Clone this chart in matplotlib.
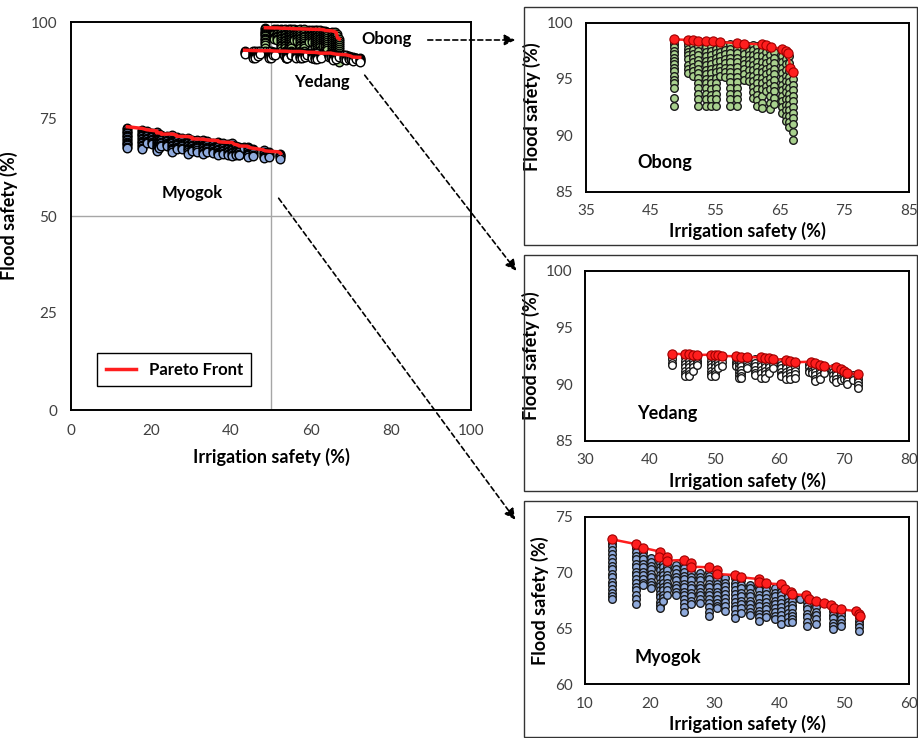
import matplotlib
matplotlib.use("Agg")
import matplotlib.pyplot as plt
from matplotlib.lines import Line2D
from matplotlib.patches import Rectangle, FancyArrowPatch

plt.rcParams['font.family'] = ['Lato', 'DejaVu Sans']

# ---- data ----
# Obong: columns of solutions (x = irrigation safety, y list = flood safety)
obong_x = [48.6, 50.8, 51.6, 52.4, 53.5, 54.4, 55.1, 55.8, 56.5, 57.3, 58.3, 59.5,
           60.3, 60.9, 61.4, 62.2, 62.9, 63.5, 64.1, 65.3, 65.9, 66.5, 67.1]
obong_y = [
    [98.4, 98.1, 97.8, 97.5, 97.2, 96.9, 96.6, 96.3, 96.0, 95.7, 95.3, 94.9, 94.6, 94.2, 93.3, 92.6],
    [98.3, 98.0, 97.7, 97.4, 97.1, 96.8, 96.2, 95.9, 95.5],
    [98.3, 98.0, 97.6, 97.2, 96.9, 96.5, 96.1, 95.7, 95.3],
    [98.3, 97.9, 97.5, 97.1, 96.7, 96.3, 95.9, 95.5, 95.1, 94.6, 94.2, 93.7, 93.2, 92.6],
    [98.2, 97.8, 97.4, 97.0, 96.6, 96.2, 95.8, 95.4, 95.0, 94.6, 94.2, 93.7, 93.2, 92.6],
    [98.3, 97.9, 97.5, 97.1, 96.7, 96.3, 95.9, 95.5, 95.0, 94.6, 94.1, 93.6, 93.2, 92.6],
    [98.2, 97.7, 97.3, 96.9, 96.5, 96.0, 95.6, 95.1, 94.6, 94.2, 93.7, 93.2, 92.6],
    [98.2, 97.8, 97.4, 97.0, 96.6, 96.1, 95.7, 95.3],
    [98.0, 97.6, 97.2, 96.8, 96.4, 96.0, 95.6, 95.2],
    [98.1, 97.7, 97.3, 96.9, 96.5, 96.0, 95.6, 95.2, 94.7, 94.2, 93.7, 93.2, 92.6],
    [98.1, 97.7, 97.3, 96.9, 96.5, 96.1, 95.6, 95.2, 94.7, 94.2, 93.7, 93.2, 92.6],
    [98.0, 97.6, 97.2, 96.7, 96.3, 95.9, 95.4, 94.9],
    [97.9, 97.5, 97.1, 96.7, 96.3, 95.8, 95.3, 94.8],
    [98.0, 97.6, 97.1, 96.7, 96.2, 95.8, 95.3, 94.8, 94.3, 93.8, 93.3],
    [97.9, 97.4, 97.0, 96.5, 96.1, 95.6, 95.1, 94.6, 94.1, 93.6, 93.1, 92.6],
    [97.9, 97.5, 97.0, 96.5, 96.0, 95.6, 95.1, 94.6, 94.1, 93.5, 92.9, 92.4],
    [97.8, 97.4, 96.9, 96.4, 95.9, 95.4, 94.9, 94.4, 93.9],
    [97.6, 97.1, 96.6, 96.1, 95.6, 95.1, 94.6, 94.1, 93.5, 92.9, 92.3],
    [97.4, 96.9, 96.4, 95.9, 95.4, 94.9, 94.4, 93.9, 93.3, 92.8],
    [97.5, 97.0, 96.5, 96.0, 95.5, 95.0, 94.5, 94.0, 93.5, 93.0, 92.5, 92.0],
    [97.3, 96.8, 96.3, 95.8, 95.3, 94.8, 94.3, 93.8, 93.2, 92.7, 92.2, 91.7, 91.3],
    [97.0, 96.4, 95.7, 95.2, 94.7, 94.2, 93.7, 93.2, 92.7, 92.2, 91.7, 91.2, 90.7],
    [95.5, 95.0, 94.5, 94.0, 93.5, 93.0, 92.5, 92.0, 91.5, 91.0, 90.3, 89.6],
]
obong_front_x = [48.6, 50.8, 51.6, 52.4, 53.5, 54.6, 55.8, 58.3, 59.5, 62.2, 62.9,
                 63.7, 65.4, 65.9, 66.3, 66.6, 67.1]
obong_front_y = [98.52, 98.47, 98.47, 98.41, 98.38, 98.35, 98.26, 98.2, 98.15, 98.08,
                 98.05, 97.8, 97.7, 97.5, 97.3, 95.95, 95.65]

yedang_x = [43.4, 45.5, 46.0, 46.7, 47.3, 49.5, 50.0, 50.5, 51.1, 53.3, 53.7, 54.1,
            55.0, 56.3, 57.2, 57.8, 58.4, 59.0, 60.3, 61.0, 61.6, 62.4, 64.5, 65.0,
            65.5, 66.2, 66.9, 68.3, 68.7, 69.5, 70.0, 70.4, 71.3, 72.2]
yedang_y = [
    [92.5, 92.2, 91.9, 91.7],
    [92.4, 92.1, 91.8, 91.5, 91.2, 90.9, 90.7],
    [92.4, 92.1, 91.8, 91.5, 91.2, 90.9, 90.7],
    [92.4, 92.1, 91.8, 91.5, 91.2],
    [92.4, 92.1, 91.9, 91.7],
    [92.4, 92.1, 91.8, 91.5, 91.2, 90.9, 90.7],
    [92.4, 92.1, 91.8, 91.5, 91.2, 90.9, 90.7],
    [92.3, 92.0, 91.7, 91.4],
    [92.3, 92.0, 91.6],
    [92.3, 92.0, 91.8, 91.6],
    [92.3, 92.0, 91.7, 91.4, 91.1, 90.8, 90.6],
    [92.2, 91.9, 91.6, 91.3, 91.0, 90.7, 90.6],
    [92.2, 91.9, 91.6, 91.4],
    [92.2, 91.9, 91.6, 91.3, 91.0, 90.8],
    [92.2, 91.9, 91.6, 91.3, 91.0, 90.6],
    [92.1, 91.8, 91.5, 91.2, 90.9, 90.6],
    [92.1, 91.8, 91.5, 91.2, 91.0],
    [92.0, 91.7, 91.4],
    [92.0, 91.7, 91.4, 91.1, 90.8, 90.7],
    [92.0, 91.7, 91.4, 91.1, 90.8, 90.5],
    [91.9, 91.6, 91.3, 91.0, 90.7, 90.5],
    [91.8, 91.5, 91.2, 90.9, 90.6],
    [91.8, 91.5, 91.2, 91.1],
    [91.8, 91.5, 91.2, 91.0],
    [91.7, 91.4, 91.1, 90.8, 90.5, 90.3],
    [91.6, 91.3, 91.0, 90.7, 90.5],
    [91.5, 91.2, 91.0],
    [91.4, 91.1, 90.8, 90.5],
    [91.4, 91.1, 90.8, 90.5, 90.2],
    [91.2, 90.9, 90.6, 90.4],
    [91.1, 90.8, 90.5],
    [90.9, 90.6, 90.3, 90.0],
    [90.8, 90.6, 90.4],
    [90.8, 90.5, 90.2, 89.9, 89.7],
]
yedang_front_x = [43.4, 45.5, 46.0, 46.7, 47.3, 49.5, 50.0, 50.5, 51.1, 53.3, 54.1, 55.0,
                  57.2, 57.8, 58.4, 59.0, 61.0, 61.6, 62.4, 64.9, 65.5, 66.2, 66.9,
                  68.7, 69.5, 70.0, 70.4, 72.2]
yedang_front_y = [92.72, 92.64, 92.64, 92.62, 92.59, 92.62, 92.6, 92.55, 92.5, 92.48,
                  92.45, 92.38, 92.4, 92.36, 92.3, 92.2, 92.18, 92.1, 91.95, 92.0,
                  91.85, 91.72, 91.65, 91.55, 91.35, 91.2, 90.97, 90.88]

myogok_x = [14.1, 17.8, 18.9, 20.2, 21.5, 22.0, 22.6, 24.0, 25.3, 26.4, 27.8, 29.2,
            30.3, 31.6, 33.1, 34.1, 35.5, 36.8, 38.0, 39.3, 40.3, 41.3, 42.0, 43.2,
            44.3, 45.6, 48.3, 49.5, 52.3]
myogok_y = [
    [72.7, 72.4, 72.0, 71.7, 71.3, 71.0, 70.6, 70.3, 69.9, 69.6, 69.2, 68.9, 68.5, 68.2, 67.9, 67.6],
    [72.2, 71.9, 71.5, 71.2, 70.8, 70.5, 70.1, 69.8, 69.4, 69.1, 68.7, 68.4, 68.0, 67.6, 67.2],
    [71.9, 71.5, 71.2, 70.8, 70.5, 70.1, 69.8, 69.4, 69.1, 68.9],
    [71.3, 71.0, 70.6, 70.3, 69.9, 69.6, 69.2, 68.9, 68.6],
    [71.6, 71.2, 70.9, 70.5, 70.2, 69.8, 69.5, 69.1, 68.8, 68.4, 68.1, 67.8, 67.4, 67.1, 66.8],
    [71.2, 70.8, 70.5, 70.1, 69.8, 69.4, 69.1, 68.7, 68.4, 68.0, 67.7, 67.5],
    [70.9, 70.5, 70.2, 69.8, 69.5, 69.1, 68.8, 68.4, 68.0],
    [70.7, 70.3, 70.0, 69.6, 69.3, 68.9, 68.6, 68.3, 68.0],
    [70.8, 70.4, 70.1, 69.7, 69.4, 69.0, 68.7, 68.3, 68.0, 67.6, 67.3, 66.9, 66.5],
    [70.3, 70.0, 69.6, 69.3, 68.9, 68.6, 68.2, 67.9, 67.5, 67.2],
    [70.0, 69.6, 69.3, 68.9, 68.6, 68.3, 68.0, 67.6, 67.3],
    [70.1, 69.7, 69.4, 69.0, 68.7, 68.3, 68.0, 67.6, 67.3, 66.9, 66.5, 66.1],
    [69.7, 69.4, 69.0, 68.7, 68.3, 68.0, 67.6, 67.3, 67.0, 66.8],
    [69.5, 69.1, 68.8, 68.4, 68.1, 67.7, 67.4, 67.0, 66.6],
    [69.5, 69.1, 68.8, 68.4, 68.1, 67.7, 67.4, 67.0, 66.7, 66.3, 65.9],
    [69.3, 68.9, 68.6, 68.2, 67.9, 67.5, 67.2, 66.8, 66.4],
    [68.9, 68.6, 68.2, 67.9, 67.5, 67.2, 66.8, 66.5, 66.2],
    [69.1, 68.7, 68.4, 68.0, 67.7, 67.3, 67.0, 66.6, 66.3, 66.0, 65.7],
    [68.8, 68.4, 68.1, 67.7, 67.4, 67.0, 66.7, 66.3, 66.0],
    [68.6, 68.2, 67.9, 67.5, 67.2, 66.8, 66.5, 66.1, 65.8],
    [68.7, 68.3, 68.0, 67.6, 67.3, 66.9, 66.6, 66.2, 65.8, 65.4],
    [68.1, 67.8, 67.4, 67.1, 66.7, 66.4, 66.0, 65.6],
    [67.8, 67.5, 67.1, 66.8, 66.4, 66.1, 65.8, 65.6],
    [67.7, 67.6],
    [67.7, 67.4, 67.0, 66.7, 66.3, 66.0, 65.6, 65.2],
    [67.2, 66.9, 66.5, 66.2, 65.8, 65.4],
    [66.9, 66.6, 66.2, 65.9, 65.5, 65.2, 64.9],
    [66.5, 66.2, 65.8, 65.5, 65.2],
    [66.0, 65.7, 65.4, 65.1, 64.8],
]
myogok_front_x = [14.1, 17.8, 18.9, 21.5, 21.4, 22.6, 22.6, 25.3, 26.4, 26.4, 29.2, 30.3,
                  30.3, 33.1, 34.1, 36.8, 36.9, 38.0, 40.3, 40.8, 41.8, 42.0, 44.1, 44.6,
                  45.6, 46.9, 48.0, 48.5, 49.5, 51.8, 52.3, 52.4]
myogok_front_y = [73.0, 72.57, 72.24, 71.9, 71.43, 71.43, 71.08, 71.14, 70.84, 70.54,
                  70.48, 70.24, 69.88, 69.79, 69.58, 69.43, 69.13, 69.04, 68.95, 68.5,
                  68.29, 68.05, 67.99, 67.63, 67.45, 67.24, 67.09, 66.8, 66.7, 66.55,
                  66.28, 66.13]

GREEN = '#A9D18E'
BLUE = '#8FAADC'
WHITE = '#FFFFFF'
RED = '#FF1E1E'
TICK = '#404040'

W, H = 918, 738


def flat(xs, ys):
    px, py = [], []
    for x, col in zip(xs, ys):
        for y in col:
            px.append(x)
            py.append(y)
    return px, py


def box(left, top, right, bottom):
    # pixel box -> figure fraction [l, b, w, h]
    return [left / W, 1 - bottom / H, (right - left) / W, (bottom - top) / H]


def style(ax, fs_tick, pad):
    for s in ax.spines.values():
        s.set_linewidth(1.4)
        s.set_color('black')
    ax.tick_params(length=0, pad=pad, labelsize=fs_tick, colors=TICK)


fig = plt.figure(figsize=(W / 100, H / 100), dpi=100)

# ---------------- main chart ----------------
ax = fig.add_axes(box(71, 22, 471, 410))
ax.set_xlim(0, 100)
ax.set_ylim(0, 100)
ax.set_xticks([0, 20, 40, 60, 80, 100])
ax.set_yticks([0, 25, 50, 75, 100])
ax.axvline(50, color='#A6A6A6', lw=1, zorder=1)
ax.axhline(50, color='#A6A6A6', lw=1, zorder=1)
for xs, ys, fc in [(myogok_x, myogok_y, BLUE), (obong_x, obong_y, GREEN),
                   (yedang_x, yedang_y, WHITE)]:
    px, py = flat(xs, ys)
    ax.scatter(px, py, s=38, c=fc, edgecolors='black', linewidths=1.0, zorder=2)
for fx_, fy_ in [(myogok_front_x, myogok_front_y), (obong_front_x, obong_front_y),
                 (yedang_front_x, yedang_front_y)]:
    ax.plot(fx_, fy_, color=RED, lw=2.5, zorder=3)
style(ax, 11, 10)
ax.set_xlabel('Irrigation safety (%)', fontsize=13, fontweight='bold', labelpad=7)
ax.set_ylabel('Flood safety (%)', fontsize=13, fontweight='bold', labelpad=9)
ax.text(79, 95.6, 'Obong', fontsize=12, fontweight='bold', ha='center', va='center')
ax.text(62.8, 84.5, 'Yedang', fontsize=12, fontweight='bold', ha='center', va='center')
ax.text(30.4, 56, 'Myogok', fontsize=12, fontweight='bold', ha='center', va='center')
leg = ax.legend([Line2D([0], [0], color=RED, lw=2.5)], ['Pareto Front'],
                loc='lower left', bbox_to_anchor=(0.045, 0.04), fancybox=False,
                prop={'weight': 'bold', 'size': 12}, handlelength=1.8,
                borderpad=0.5, framealpha=1)
leg.get_frame().set_edgecolor('black')
leg.get_frame().set_linewidth(1)

# ---------------- insets ----------------
insets = [
    (obong_x, obong_y, obong_front_x, obong_front_y, GREEN, 'Obong',
     (35, 85), [35, 45, 55, 65, 75, 85], (85, 100), [85, 90, 95, 100],
     (586, 22.7, 909, 191.5), (524, 7, 917, 245), (43.0, 87.55)),
    (yedang_x, yedang_y, yedang_front_x, yedang_front_y, WHITE, 'Yedang',
     (30, 80), [30, 40, 50, 60, 70, 80], (85, 100), [85, 90, 95, 100],
     (585, 271, 909, 441), (524, 255, 917, 491), (38.0, 87.47)),
    (myogok_x, myogok_y, myogok_front_x, myogok_front_y, BLUE, 'Myogok',
     (10, 60), [10, 20, 30, 40, 50, 60], (60, 75), [60, 65, 70, 75],
     (585, 517, 909, 684), (524, 501, 917, 737), (17.7, 62.4)),
]
for xs, ys, fx_, fy_, fc, name, xl, xt, yl, yt, pbox, obox, tpos in insets:
    l, t, r, b = obox
    fig.add_artist(Rectangle((l / W, 1 - b / H), (r - l) / W, (b - t) / H,
                             transform=fig.transFigure, fill=False,
                             edgecolor='#333333', lw=1))
    ia = fig.add_axes(box(*pbox))
    px, py = flat(xs, ys)
    ia.scatter(px, py, s=30, c=fc, edgecolors='#1a1a1a', linewidths=1.0, zorder=2)
    ia.plot(fx_, fy_, color=RED, lw=1.8, zorder=3)
    ia.scatter(fx_, fy_, s=44, c=RED, edgecolors='#A00000', linewidths=0.8, zorder=4)
    ia.set_xlim(*xl)
    ia.set_ylim(*yl)
    ia.set_xticks(xt)
    ia.set_yticks(yt)
    style(ia, 11, 9)
    ia.set_xlabel('Irrigation safety (%)', fontsize=13, fontweight='bold', labelpad=3)
    ia.set_ylabel('Flood safety (%)', fontsize=13, fontweight='bold', labelpad=4)
    ia.text(tpos[0], tpos[1], name, fontsize=13, fontweight='bold', ha='left', va='center')

# ---------------- dashed arrows ----------------
for (x0, y0), (x1, y1) in [((425, 40), (518, 40)), ((363, 73), (518, 273)),
                           ((277, 196), (517, 522))]:
    fig.add_artist(FancyArrowPatch((x0 / W, 1 - y0 / H), (x1 / W, 1 - y1 / H),
                                   transform=fig.transFigure, arrowstyle='-|>',
                                   mutation_scale=16, color='black', lw=1.2,
                                   linestyle=(0, (3, 2))))

fig.savefig('out.png', dpi=100)
